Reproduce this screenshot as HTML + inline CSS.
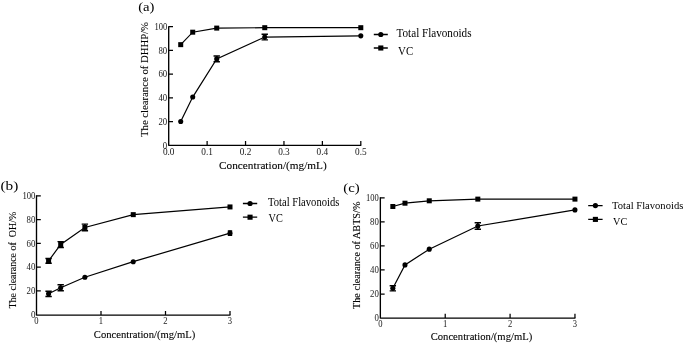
<!DOCTYPE html>
<html><head><meta charset="utf-8"><title>Figure</title>
<style>
html,body{margin:0;padding:0;background:#fff}
body{width:685px;height:344px;overflow:hidden}
svg{display:block}
text{font-family:'Liberation Serif', 'Times New Roman', serif;fill:#000}
.t{fill:#1a1a1a}
.l{stroke:#000;stroke-width:0.1px}
</style></head><body>
<svg width="685" height="344" viewBox="0 0 685 344">
<defs><filter id="soft" x="0" y="0" width="685" height="344" filterUnits="userSpaceOnUse"><feGaussianBlur stdDeviation="0.4"/></filter></defs>
<rect width="685" height="344" fill="#fff"/>
<g filter="url(#soft)">
<path d="M168.70 26.20V145.30H361.30" fill="none" stroke="#000" stroke-width="1.35" stroke-linejoin="round"/>
<path d="M168.70 121.58h4.3M168.70 97.86h4.3M168.70 74.14h4.3M168.70 50.42h4.3M168.70 26.70h4.3M207.12 145.30v-4.2M245.54 145.30v-4.2M283.96 145.30v-4.2M322.38 145.30v-4.2M360.80 145.30v-4.2" fill="none" stroke="#000" stroke-width="1.25"/>
<text x="167.20" y="148.50" text-anchor="end" class="t" font-size="9.6" textLength="4.4" lengthAdjust="spacingAndGlyphs">0</text>
<text x="167.20" y="124.78" text-anchor="end" class="t" font-size="9.6" textLength="8.8" lengthAdjust="spacingAndGlyphs">20</text>
<text x="167.20" y="101.06" text-anchor="end" class="t" font-size="9.6" textLength="8.8" lengthAdjust="spacingAndGlyphs">40</text>
<text x="167.20" y="77.34" text-anchor="end" class="t" font-size="9.6" textLength="8.8" lengthAdjust="spacingAndGlyphs">60</text>
<text x="167.20" y="53.62" text-anchor="end" class="t" font-size="9.6" textLength="8.8" lengthAdjust="spacingAndGlyphs">80</text>
<text x="167.20" y="29.90" text-anchor="end" class="t" font-size="9.6" textLength="12.8" lengthAdjust="spacingAndGlyphs">100</text>
<text x="168.70" y="155.10" text-anchor="middle" class="t" font-size="9.6" textLength="11.6" lengthAdjust="spacingAndGlyphs">0.0</text>
<text x="207.12" y="155.10" text-anchor="middle" class="t" font-size="9.6" textLength="11.6" lengthAdjust="spacingAndGlyphs">0.1</text>
<text x="245.54" y="155.10" text-anchor="middle" class="t" font-size="9.6" textLength="11.6" lengthAdjust="spacingAndGlyphs">0.2</text>
<text x="283.96" y="155.10" text-anchor="middle" class="t" font-size="9.6" textLength="11.6" lengthAdjust="spacingAndGlyphs">0.3</text>
<text x="322.38" y="155.10" text-anchor="middle" class="t" font-size="9.6" textLength="11.6" lengthAdjust="spacingAndGlyphs">0.4</text>
<text x="360.80" y="155.10" text-anchor="middle" class="t" font-size="9.6" textLength="11.6" lengthAdjust="spacingAndGlyphs">0.5</text>
<path d="M180.71 121.50L192.71 97.07L216.72 58.88L264.75 37.06L360.80 35.87" fill="none" stroke="#000" stroke-width="1.2"/>
<path d="M216.72 56.08v5.60M213.52 56.08h6.4M213.52 61.68h6.4M264.75 34.26v5.60M261.55 34.26h6.4M261.55 39.86h6.4" fill="none" stroke="#000" stroke-width="1.45"/>
<circle cx="180.71" cy="121.50" r="2.55"/>
<circle cx="192.71" cy="97.07" r="2.55"/>
<circle cx="216.72" cy="58.88" r="2.55"/>
<circle cx="264.75" cy="37.06" r="2.55"/>
<circle cx="360.80" cy="35.87" r="2.55"/>
<path d="M180.71 44.65L192.71 32.19L216.72 28.10L264.75 27.69L360.80 27.69" fill="none" stroke="#000" stroke-width="1.2"/>
<rect x="178.21" y="42.15" width="5" height="5"/>
<rect x="190.21" y="29.69" width="5" height="5"/>
<rect x="214.22" y="25.60" width="5" height="5"/>
<rect x="262.25" y="25.19" width="5" height="5"/>
<rect x="358.30" y="25.19" width="5" height="5"/>
<text x="138.2" y="11.3" class="p" font-size="13.2" textLength="16.3" lengthAdjust="spacingAndGlyphs">(a)</text>
<text transform="translate(148.3 137) rotate(-90)" class="l" font-size="11" textLength="115" lengthAdjust="spacingAndGlyphs" style="white-space:pre">The clearance of DHHP/%</text>
<text x="219.1" y="168.9" class="l" font-size="11" textLength="107.6" lengthAdjust="spacingAndGlyphs">Concentration/(mg/mL)</text>
<path d="M373.8 34.5H387.8M373.8 48H387.8" stroke="#000" stroke-width="1.3" stroke-linejoin="round"/>
<circle cx="380.80" cy="34.5" r="2.6"/>
<rect x="378.25" y="45.45" width="5.1" height="5.1"/>
<text x="396.5" y="37" class="g" font-size="11.7" textLength="75.0" lengthAdjust="spacingAndGlyphs">Total Flavonoids</text>
<text x="398.1" y="54.5" class="g" font-size="11.7" textLength="15.2" lengthAdjust="spacingAndGlyphs">VC</text>
<path d="M36.50 195.25V315.10H230.50" fill="none" stroke="#000" stroke-width="1.35" stroke-linejoin="round"/>
<path d="M36.50 290.95h4.3M36.50 267.15h4.3M36.50 243.35h4.3M36.50 219.55h4.3M36.50 195.75h4.3M101.00 315.10v-4.2M165.50 315.10v-4.2M230.00 315.10v-4.2" fill="none" stroke="#000" stroke-width="1.25"/>
<text x="35.40" y="317.95" text-anchor="end" class="t" font-size="9.8" textLength="4.5" lengthAdjust="spacingAndGlyphs">0</text>
<text x="35.40" y="294.15" text-anchor="end" class="t" font-size="9.8" textLength="8.8" lengthAdjust="spacingAndGlyphs">20</text>
<text x="35.40" y="270.35" text-anchor="end" class="t" font-size="9.8" textLength="8.8" lengthAdjust="spacingAndGlyphs">40</text>
<text x="35.40" y="246.55" text-anchor="end" class="t" font-size="9.8" textLength="8.8" lengthAdjust="spacingAndGlyphs">60</text>
<text x="35.40" y="222.75" text-anchor="end" class="t" font-size="9.8" textLength="8.8" lengthAdjust="spacingAndGlyphs">80</text>
<text x="35.40" y="198.95" text-anchor="end" class="t" font-size="9.8" textLength="13.0" lengthAdjust="spacingAndGlyphs">100</text>
<text x="36.50" y="324.10" text-anchor="middle" class="t" font-size="9.8" textLength="4.3" lengthAdjust="spacingAndGlyphs">0</text>
<text x="101.00" y="324.10" text-anchor="middle" class="t" font-size="9.8" textLength="4.3" lengthAdjust="spacingAndGlyphs">1</text>
<text x="165.50" y="324.10" text-anchor="middle" class="t" font-size="9.8" textLength="4.3" lengthAdjust="spacingAndGlyphs">2</text>
<text x="230.00" y="324.10" text-anchor="middle" class="t" font-size="9.8" textLength="4.3" lengthAdjust="spacingAndGlyphs">3</text>
<path d="M48.59 293.80L60.69 287.76L84.88 277.21L133.25 261.69L230.00 233.13" fill="none" stroke="#000" stroke-width="1.2"/>
<path d="M48.59 291.20v5.20M45.39 291.20h6.4M45.39 296.40h6.4M60.69 284.76v6.00M57.49 284.76h6.4M57.49 290.76h6.4M230.00 230.93v4.40M227.80 230.93h4.4M227.80 235.33h4.4" fill="none" stroke="#000" stroke-width="1.45"/>
<circle cx="48.59" cy="293.80" r="2.55"/>
<circle cx="60.69" cy="287.76" r="2.55"/>
<circle cx="84.88" cy="277.21" r="2.55"/>
<circle cx="133.25" cy="261.69" r="2.55"/>
<circle cx="230.00" cy="233.13" r="2.55"/>
<path d="M48.59 260.86L60.69 244.50L84.88 227.44L133.25 214.64L230.00 206.94" fill="none" stroke="#000" stroke-width="1.2"/>
<path d="M48.59 258.46v4.80M45.39 258.46h6.4M45.39 263.26h6.4M60.69 241.60v5.80M57.49 241.60h6.4M57.49 247.40h6.4M84.88 224.14v6.60M81.68 224.14h6.4M81.68 230.74h6.4" fill="none" stroke="#000" stroke-width="1.45"/>
<rect x="46.09" y="258.36" width="5" height="5"/>
<rect x="58.19" y="242.00" width="5" height="5"/>
<rect x="82.38" y="224.94" width="5" height="5"/>
<rect x="130.75" y="212.14" width="5" height="5"/>
<rect x="227.50" y="204.44" width="5" height="5"/>
<text x="0.5" y="190.1" class="p" font-size="13.2" textLength="17.9" lengthAdjust="spacingAndGlyphs">(b)</text>
<text transform="translate(16.2 308.5) rotate(-90)" class="l" font-size="10.4" textLength="96.7" lengthAdjust="spacingAndGlyphs" style="white-space:pre">The clearance of  OH/%</text>
<text x="93.8" y="337.6" class="l" font-size="10.4" textLength="101.5" lengthAdjust="spacingAndGlyphs">Concentration/(mg/mL)</text>
<path d="M242.9 203.5H257.2M242.9 217.2H257.2" stroke="#000" stroke-width="1.3" stroke-linejoin="round"/>
<circle cx="250.05" cy="203.5" r="2.6"/>
<rect x="247.50" y="214.65" width="5.1" height="5.1"/>
<text x="268.1" y="205.8" class="g" font-size="11.5" textLength="71.2" lengthAdjust="spacingAndGlyphs">Total Flavonoids</text>
<text x="268.6" y="221.8" class="g" font-size="11.5" textLength="14.3" lengthAdjust="spacingAndGlyphs">VC</text>
<path d="M380.35 197.35V318.05H575.46" fill="none" stroke="#000" stroke-width="1.35" stroke-linejoin="round"/>
<path d="M380.35 294.01h4.3M380.35 269.97h4.3M380.35 245.93h4.3M380.35 221.89h4.3M380.35 197.85h4.3M445.22 318.05v-4.2M510.09 318.05v-4.2M574.96 318.05v-4.2" fill="none" stroke="#000" stroke-width="1.25"/>
<text x="378.85" y="321.25" text-anchor="end" class="t" font-size="9.8" textLength="4.4" lengthAdjust="spacingAndGlyphs">0</text>
<text x="378.85" y="297.21" text-anchor="end" class="t" font-size="9.8" textLength="8.8" lengthAdjust="spacingAndGlyphs">20</text>
<text x="378.85" y="273.17" text-anchor="end" class="t" font-size="9.8" textLength="8.8" lengthAdjust="spacingAndGlyphs">40</text>
<text x="378.85" y="249.13" text-anchor="end" class="t" font-size="9.8" textLength="8.8" lengthAdjust="spacingAndGlyphs">60</text>
<text x="378.85" y="225.09" text-anchor="end" class="t" font-size="9.8" textLength="8.8" lengthAdjust="spacingAndGlyphs">80</text>
<text x="378.85" y="201.05" text-anchor="end" class="t" font-size="9.8" textLength="12.8" lengthAdjust="spacingAndGlyphs">100</text>
<text x="380.35" y="326.95" text-anchor="middle" class="t" font-size="9.8" textLength="4.3" lengthAdjust="spacingAndGlyphs">0</text>
<text x="445.22" y="326.95" text-anchor="middle" class="t" font-size="9.8" textLength="4.3" lengthAdjust="spacingAndGlyphs">1</text>
<text x="510.09" y="326.95" text-anchor="middle" class="t" font-size="9.8" textLength="4.3" lengthAdjust="spacingAndGlyphs">2</text>
<text x="574.96" y="326.95" text-anchor="middle" class="t" font-size="9.8" textLength="4.3" lengthAdjust="spacingAndGlyphs">3</text>
<path d="M392.84 288.28L404.98 264.88L429.26 249.16L477.82 226.00L574.95 209.92" fill="none" stroke="#000" stroke-width="1.2"/>
<path d="M392.84 285.68v5.20M389.64 285.68h6.4M389.64 290.88h6.4M477.82 222.70v6.60M474.62 222.70h6.4M474.62 229.30h6.4" fill="none" stroke="#000" stroke-width="1.45"/>
<circle cx="392.84" cy="288.28" r="2.55"/>
<circle cx="404.98" cy="264.88" r="2.55"/>
<circle cx="429.26" cy="249.16" r="2.55"/>
<circle cx="477.82" cy="226.00" r="2.55"/>
<circle cx="574.95" cy="209.92" r="2.55"/>
<path d="M392.84 206.50L404.98 203.20L429.26 200.80L477.82 199.12L574.95 199.12" fill="none" stroke="#000" stroke-width="1.2"/>
<rect x="390.34" y="204.00" width="5" height="5"/>
<rect x="402.48" y="200.70" width="5" height="5"/>
<rect x="426.76" y="198.30" width="5" height="5"/>
<rect x="475.32" y="196.62" width="5" height="5"/>
<rect x="572.45" y="196.62" width="5" height="5"/>
<text x="343.2" y="192.4" class="p" font-size="13.2" textLength="16.5" lengthAdjust="spacingAndGlyphs">(c)</text>
<text transform="translate(360.0 309.0) rotate(-90)" class="l" font-size="10.4" textLength="107.4" lengthAdjust="spacingAndGlyphs" style="white-space:pre">The clearance of ABTS/%</text>
<text x="430.7" y="340" class="l" font-size="10.4" textLength="101.5" lengthAdjust="spacingAndGlyphs">Concentration/(mg/mL)</text>
<path d="M588.2 205.6H602.6M588.2 219.4H602.6" stroke="#000" stroke-width="1.3" stroke-linejoin="round"/>
<circle cx="595.40" cy="205.6" r="2.6"/>
<rect x="592.85" y="216.85" width="5.1" height="5.1"/>
<text x="612.0" y="208.5" class="g" font-size="10.9" textLength="71.3" lengthAdjust="spacingAndGlyphs">Total Flavonoids</text>
<text x="613.0" y="224.5" class="g" font-size="10.9" textLength="14.2" lengthAdjust="spacingAndGlyphs">VC</text>
</g>
</svg>
</body></html>
